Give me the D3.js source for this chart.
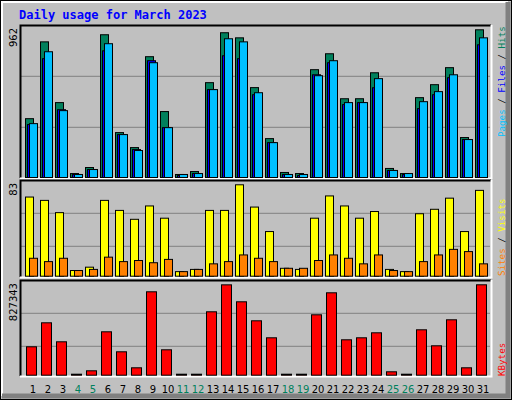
<!DOCTYPE html>
<html><head><meta charset="utf-8">
<script src="https://cdn.jsdelivr.net/npm/d3@7"></script>
<style>body{margin:0;background:#fff}</style></head>
<body><svg id="c" width="512" height="400"></svg>
<script>
const days = d3.range(1, 32);
const weekend = [4,5,11,12,18,19,25,26];
const hits  = [387,884,491,32,71,930,297,200,788,433,26,45,620,943,910,588,258,39,32,704,807,516,516,684,65,32,523,607,717,265,962];
const pages = [349,775,445,26,58,826,284,187,762,329,19,32,575,794,775,542,232,26,19,671,749,478,491,587,52,26,452,542,652,252,865];
const files = [355,820,439,26,58,872,284,181,749,329,26,32,575,904,884,555,232,26,26,665,762,491,491,646,52,32,497,562,671,252,910];
const visits = [72,69,58,6,9,69,60,52,64,53,5,7,60,60,83,63,41,8,7,53,73,64,53,59,7,5,57,61,71,41,78];
const sites  = [17,14,17,6,7,18,14,15,13,16,5,7,12,14,20,17,14,8,8,15,20,17,12,20,6,5,14,20,25,23,12];
const kbytes = [266129,483377,311389,0,48881,401909,220869,76037,764000,238973,0,0,582949,827000,673469,501481,347597,0,0,555793,754937,329493,347597,392857,39829,0,420013,275181,510533,76037,827343];
const maxLabels = ["962","83","827343"];

const svg = d3.select("#c");
svg.append("rect").attr("x",0.5).attr("y",0.5).attr("width",511).attr("height",399).attr("fill","#c0c0c0").attr("stroke","#000");
svg.append("path").attr("d","M2,396V2H508").attr("fill","none").attr("stroke","#fff").attr("stroke-width",2);
svg.append("path").attr("d","M508,2V396H2").attr("fill","none").attr("stroke","#808080").attr("stroke-width",5);

svg.append("text").attr("x",19).attr("y",19).text("Daily usage for March 2023")
  .attr("font-family","DejaVu Sans Mono").attr("font-weight","bold").attr("font-size",12).attr("fill","#0000ff");

const x = d3.scaleLinear().domain([1,31]).range([25,475]);
const panels = [{t:25,b:178,g:[127.3,76.3]},{t:180,b:277,g:[213.3,246.3]},{t:280,b:376,g:[313.3,346.3]}];
panels.forEach(p=>{
  svg.append("rect").attr("x",20).attr("y",p.t).attr("width",471).attr("height",p.b-p.t).attr("fill","#c0c0c0");
  p.g.forEach(gy=>svg.append("line").attr("x1",21).attr("x2",490).attr("y1",gy).attr("y2",gy).attr("stroke","#808080"));
  svg.append("path").attr("d",`M20.5,${p.b}V${p.t+0.5}H491`).attr("fill","none").attr("stroke","#000").attr("stroke-width",2);
  svg.append("path").attr("d",`M491.5,${p.t}V${p.b+0.5}H20`).attr("fill","none").attr("stroke","#fff").attr("stroke-width",2);
});

const yTop = d3.scaleLinear().domain([0,962]).range([178,29.3]);
const yMid = d3.scaleLinear().domain([0,83]).range([276.7,184.3]);
const yBot = d3.scaleLinear().domain([0,827343]).range([375.7,284.3]);

function bars(data, y, off, w, color){
  svg.append("g").selectAll("rect").data(data).join("rect")
    .attr("x",(d,i)=>x(days[i])+off+0.5).attr("width",w)
    .attr("y",d=>Math.min(y(d)+0.5, y(0)-1.5)).attr("height",d=>Math.max(1,y(0)-y(d)-1))
    .attr("fill",color).attr("stroke","#000").attr("stroke-width",1);
}
bars(hits,yTop,0,8,"#00805c");
bars(pages,yTop,2,8,"#0000ff");
bars(files,yTop,4,8,"#00c0ff");
bars(visits,yMid,0,8,"#ffff00");
bars(sites,yMid,4,8,"#ff8000");
bars(kbytes,yBot,1,10,"#ff0000");

svg.append("g").selectAll("text").data(days).join("text")
  .attr("x",d=>x(d)+8).attr("y",393).attr("text-anchor","middle")
  .attr("font-family","DejaVu Sans").attr("font-size",10)
  .attr("fill",d=>weekend.includes(d)?"#00805c":"#000").text(d=>d);

[[28,maxLabels[0]],[183,maxLabels[1]],[283,maxLabels[2]]].forEach(([yy,t])=>{
  svg.append("text").attr("transform",`translate(17,${yy}) rotate(-90)`).attr("text-anchor","end")
    .attr("font-family","DejaVu Sans").attr("font-size",10).attr("fill","#000").text(t);
});
function rlabel(yEnd, parts){
  const t = svg.append("text").attr("transform",`translate(505,${yEnd}) rotate(-90)`).attr("text-anchor","start")
    .attr("font-family","DejaVu Sans Mono").attr("font-size",9.2);
  parts.forEach(([s,c])=>t.append("tspan").attr("fill",c).text(s));
}
rlabel(137,[["Pages","#00c0ff"],[" / ","#000"],["Files","#0000ff"],[" / ","#000"],["Hits","#00805c"]]);
rlabel(276,[["Sites","#ff8000"],[" / ","#000"],["Visits","#ffff00"]]);
rlabel(376,[["KBytes","#ff0000"]]);
</script></body></html>
